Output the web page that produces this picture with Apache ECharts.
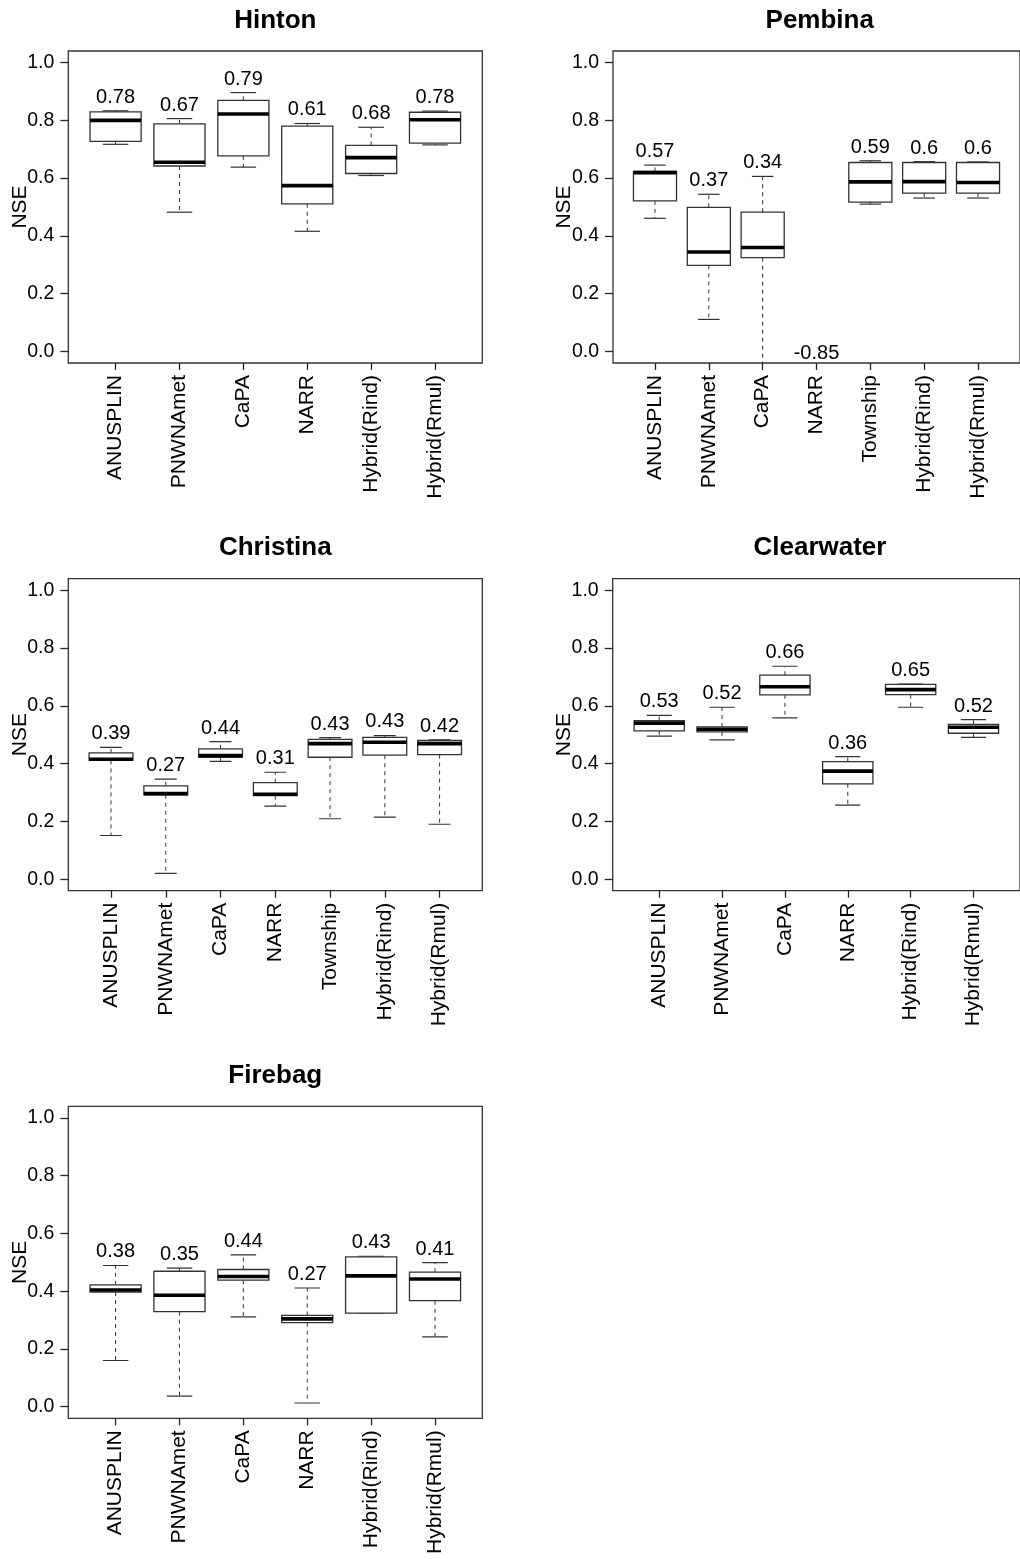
<!DOCTYPE html>
<html><head><meta charset="utf-8">
<script src="https://cdn.jsdelivr.net/npm/echarts@6/dist/echarts.min.js"></script>
<style>html,body{margin:0;padding:0;background:#fff}#c{width:1020px;height:1559px}</style>
</head><body><div id="c"></div>
<script>
// ---- data ----
const catsSix = ['ANUSPLIN', 'PNWNAmet', 'CaPA', 'NARR', 'Hybrid(Rind)', 'Hybrid(Rmul)'];
const catsSeven = ['ANUSPLIN', 'PNWNAmet', 'CaPA', 'NARR', 'Township', 'Hybrid(Rind)', 'Hybrid(Rmul)'];
const yTicks = [0, 0.2, 0.4, 0.6, 0.8, 1.0];

// each entry: [lower whisker, Q1, median, Q3, upper whisker]
const hintonStats = [
  [0.717, 0.727, 0.800, 0.829, 0.833],
  [0.482, 0.642, 0.655, 0.788, 0.806],
  [0.638, 0.677, 0.822, 0.869, 0.896],
  [0.416, 0.511, 0.574, 0.780, 0.789],
  [0.609, 0.616, 0.671, 0.713, 0.776],
  [0.715, 0.721, 0.802, 0.828, 0.832]
];
const hintonMeans = [0.78, 0.67, 0.79, 0.61, 0.68, 0.78];

const pembinaStats = [
  [0.461, 0.521, 0.619, 0.623, 0.645],
  [0.111, 0.298, 0.344, 0.499, 0.544],
  [-0.45, 0.325, 0.360, 0.482, 0.606],
  [-1.60, -1.20, -0.95, -0.60, -0.053],
  [0.510, 0.517, 0.587, 0.654, 0.660],
  [0.531, 0.548, 0.588, 0.654, 0.657],
  [0.531, 0.548, 0.585, 0.654, 0.656]
];
const pembinaMeans = [0.57, 0.37, 0.34, -0.85, 0.59, 0.6, 0.6];

const christinaStats = [
  [0.151, 0.411, 0.415, 0.437, 0.456],
  [0.020, 0.292, 0.296, 0.323, 0.346],
  [0.408, 0.422, 0.428, 0.451, 0.476],
  [0.253, 0.289, 0.294, 0.334, 0.370],
  [0.209, 0.422, 0.469, 0.484, 0.490],
  [0.215, 0.429, 0.474, 0.491, 0.497],
  [0.190, 0.431, 0.469, 0.480, 0.482]
];
const christinaMeans = [0.39, 0.27, 0.44, 0.31, 0.43, 0.43, 0.42];

const clearwaterStats = [
  [0.495, 0.513, 0.540, 0.549, 0.567],
  [0.482, 0.510, 0.519, 0.527, 0.595],
  [0.558, 0.638, 0.666, 0.706, 0.737],
  [0.256, 0.330, 0.374, 0.407, 0.424],
  [0.595, 0.639, 0.656, 0.674, 0.675],
  [0.491, 0.505, 0.526, 0.536, 0.552]
];
const clearwaterMeans = [0.53, 0.52, 0.66, 0.36, 0.65, 0.52];

const firebagStats = [
  [0.160, 0.397, 0.404, 0.422, 0.489],
  [0.037, 0.329, 0.386, 0.469, 0.480],
  [0.311, 0.438, 0.451, 0.475, 0.526],
  [0.013, 0.291, 0.304, 0.316, 0.411],
  [0.324, 0.324, 0.453, 0.519, 0.521],
  [0.242, 0.367, 0.442, 0.466, 0.499]
];
const firebagMeans = [0.38, 0.35, 0.44, 0.27, 0.43, 0.41];

// ---- layout ----
const FONT = '"Liberation Sans", Arial, sans-serif';
const panels = [
  { title: 'Hinton', cats: catsSix, stats: hintonStats, means: hintonMeans, left: 68.3, top: 51, width: 414, titleY: 20.5 },
  { title: 'Pembina', cats: catsSeven, stats: pembinaStats, means: pembinaMeans, left: 613, top: 51, width: 413.5, titleY: 20.5 },
  { title: 'Christina', cats: catsSeven, stats: christinaStats, means: christinaMeans, left: 68.3, top: 578.7, width: 414, titleY: 548 },
  { title: 'Clearwater', cats: catsSix, stats: clearwaterStats, means: clearwaterMeans, left: 612.7, top: 578.7, width: 414.5, titleY: 548 },
  { title: 'Firebag', cats: catsSix, stats: firebagStats, means: firebagMeans, left: 68.3, top: 1106.3, width: 414, titleY: 1076 }
];
const PH = 312;

function makeRender(means) {
  return function (params, api) {
    const x = api.value(0);
    const lo = api.value(1), q1 = api.value(2), med = api.value(3), q3 = api.value(4), hi = api.value(5);
    const cx = api.coord([x, 0])[0];
    const hw = api.size([0.4, 0])[0];
    const cw = api.size([0.2, 0])[0];
    const Y = v => api.coord([x, v])[1];
    const dash = { stroke: '#333', lineWidth: 1, lineDash: [4, 4] };
    const solid = { stroke: '#333', lineWidth: 1.2 };
    const m = means[params.dataIndex];
    return {
      type: 'group',
      children: [
        { type: 'line', shape: { x1: cx, y1: Y(q3), x2: cx, y2: Y(hi) }, style: dash },
        { type: 'line', shape: { x1: cx, y1: Y(q1), x2: cx, y2: Y(lo) }, style: dash },
        { type: 'line', shape: { x1: cx - cw, y1: Y(hi), x2: cx + cw, y2: Y(hi) }, style: solid },
        { type: 'line', shape: { x1: cx - cw, y1: Y(lo), x2: cx + cw, y2: Y(lo) }, style: solid },
        { type: 'rect', shape: { x: cx - hw, y: Y(q3), width: 2 * hw, height: Y(q1) - Y(q3) },
          style: { fill: '#fff', stroke: '#333', lineWidth: 1.3 } },
        { type: 'line', shape: { x1: cx - hw, y1: Y(med), x2: cx + hw, y2: Y(med) },
          style: { stroke: '#000', lineWidth: 3.6 } },
        { type: 'text', x: cx, y: Y(hi) - 13.6,
          style: { text: String(m), fill: '#000', fontSize: 20, fontFamily: FONT,
                   align: 'center', verticalAlign: 'middle', textAlign: 'center', textVerticalAlign: 'middle' } }
      ]
    };
  };
}

const grids = [], xAxes = [], yAxes = [], series = [], graphics = [];
panels.forEach((p, i) => {
  const n = p.cats.length;
  const pad = n * 0.04;
  const idx = p.cats.map((c, k) => k + 1);
  grids.push({ left: p.left, top: p.top, width: p.width, height: PH, show: true,
    borderColor: '#333', borderWidth: 1.3, backgroundColor: 'transparent', containLabel: false });
  xAxes.push({
    type: 'value', gridIndex: i, min: 0.5 - pad, max: n + 0.5 + pad, position: 'bottom',
    axisLine: { show: false, onZero: false }, splitLine: { show: false },
    axisTick: { show: true, inside: false, customValues: idx, length: 7, lineStyle: { color: '#222', width: 1.3 } },
    axisLabel: { show: true, customValues: idx, rotate: 90, margin: 12, fontSize: 21, fontFamily: FONT, color: '#000',
      formatter: (v) => p.cats[Math.round(v) - 1] || '' }
  });
  yAxes.push({
    type: 'value', gridIndex: i, min: -0.04, max: 1.04, position: 'left',
    name: 'NSE', nameLocation: 'middle', nameGap: 38, nameMoveOverlap: false,
    nameTextStyle: { fontSize: 21, fontFamily: FONT, color: '#000' },
    axisLine: { show: false, onZero: false }, splitLine: { show: false },
    axisTick: { show: true, inside: false, customValues: yTicks, length: 8, lineStyle: { color: '#222', width: 1.3 } },
    axisLabel: { show: true, customValues: yTicks, margin: 14, fontSize: 19.5, fontFamily: FONT, color: '#000',
      formatter: (v) => Number(v).toFixed(1) }
  });
  series.push({
    type: 'custom', coordinateSystem: 'cartesian2d', xAxisIndex: i, yAxisIndex: i, clip: true,
    data: p.stats.map((s, k) => [k + 1].concat(s)),
    encode: { x: 0, y: [1, 2, 3, 4, 5] },
    renderItem: makeRender(p.means),
    animation: false, silent: true
  });
  graphics.push({
    type: 'text', x: p.left + p.width / 2, y: p.titleY,
    style: { text: p.title, fill: '#000', fontSize: 26, fontWeight: 'bold', fontFamily: FONT,
      align: 'center', verticalAlign: 'middle', textAlign: 'center', textVerticalAlign: 'middle' }
  });
});

const chart = echarts.init(document.getElementById('c'), null, { renderer: 'canvas', width: 1020, height: 1559 });
chart.setOption({
  backgroundColor: '#fff',
  animation: false,
  grid: grids, xAxis: xAxes, yAxis: yAxes, series: series, graphic: graphics
});
</script></body></html>
